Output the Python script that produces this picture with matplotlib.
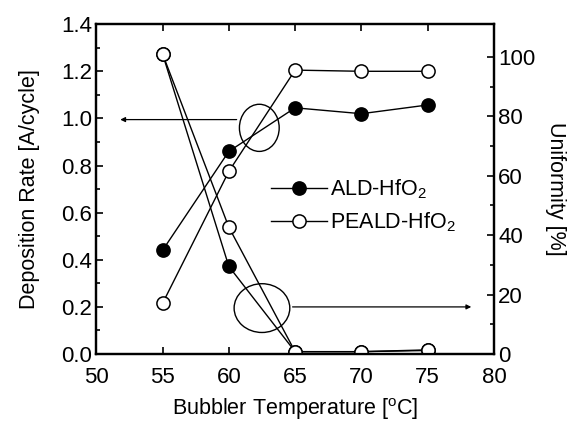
import matplotlib
matplotlib.use("Agg")
import matplotlib.pyplot as plt
from matplotlib.patches import Ellipse

plt.rcParams['font.family'] = ['Liberation Sans', 'DejaVu Sans']
plt.rcParams['mathtext.fontset'] = 'custom'
plt.rcParams['mathtext.rm'] = 'Liberation Sans'

# bubbler temperature [C]
temps = [55, 60, 65, 70, 75]

# deposition rate [A/cycle]
ald_rate = [0.44, 0.86, 1.045, 1.02, 1.057]
peald_rate = [0.215, 0.775, 1.205, 1.2, 1.2]

# uniformity [%]
ald_unif = [101, 29.5, 0.8, 0.8, 1.2]
peald_unif = [101, 42.7, 0.8, 0.8, 1.4]

fig = plt.figure(figsize=(5.73, 4.24), dpi=100)
ax = fig.add_axes([0.168, 0.165, 0.694, 0.778])
ax2 = ax.twinx()

mk = dict(color='black', lw=1.0, markersize=9.5, markeredgewidth=1.1)
ax.plot(temps, ald_rate, 'o-', markerfacecolor='black', label='ALD-HfO$_2$', **mk)
ax.plot(temps, peald_rate, 'o-', markerfacecolor='white', label='PEALD-HfO$_2$', **mk)
ax2.plot(temps, ald_unif, 'o-', markerfacecolor='black', **mk)
ax2.plot(temps, peald_unif, 'o-', markerfacecolor='white', **mk)

ax.set_xlim(50, 80)
ax.set_ylim(0, 1.4)
ax2.set_ylim(0, 111)
ax.set_xticks([50, 55, 60, 65, 70, 75, 80])
ax.set_yticks([0.0, 0.2, 0.4, 0.6, 0.8, 1.0, 1.2, 1.4])
ax.set_yticklabels(['0.0', '0.2', '0.4', '0.6', '0.8', '1.0', '1.2', '1.4'])
ax.set_yticks([0.1, 0.3, 0.5, 0.7, 0.9, 1.1, 1.3], minor=True)
ax2.set_yticks([0, 20, 40, 60, 80, 100])
ax2.set_yticks([10, 30, 50, 70, 90], minor=True)

ax.tick_params(which='both', direction='in', top=True, labelsize=16, width=1.2)
ax.tick_params(which='major', length=5)
ax.tick_params(which='minor', length=3)
ax.tick_params(axis='x', pad=9)
ax.tick_params(axis='y', pad=3)
ax2.tick_params(which='both', direction='in', labelsize=16, width=1.2, pad=3)
ax2.tick_params(which='major', length=5)
ax2.tick_params(which='minor', length=3)
for a in (ax, ax2):
    for s in a.spines.values():
        s.set_linewidth(1.6)

ax.set_xlabel('Bubbler Temperature [$^\\mathregular{o}$C]', fontsize=15.5, labelpad=6)
ax.set_ylabel('Deposition Rate [A/cycle]', fontsize=15.5, labelpad=15)
ax2.set_ylabel('Uniformity [%]', fontsize=15.5, rotation=270, labelpad=22)

# ellipses marking the two groups, with arrows to their axes
ax.add_patch(Ellipse((62.3, 0.96), 3.0, 0.2, fill=False, color='black', lw=1.0))
ax.add_patch(Ellipse((62.5, 0.195), 4.2, 0.207, fill=False, color='black', lw=1.0))
ax.annotate('', xy=(51.6, 0.995), xytext=(60.8, 0.995),
            arrowprops=dict(arrowstyle='-|>', color='black', lw=0.9, mutation_scale=7))
ax.annotate('', xy=(78.5, 0.2), xytext=(64.6, 0.2),
            arrowprops=dict(arrowstyle='-|>', color='black', lw=0.9, mutation_scale=7))

ax.legend(loc='center left', bbox_to_anchor=(0.39, 0.45), frameon=False, fontsize=15.5,
          handlelength=2.6, handletextpad=0.15, labelspacing=0.45)

fig.savefig('out.png', dpi=100)
